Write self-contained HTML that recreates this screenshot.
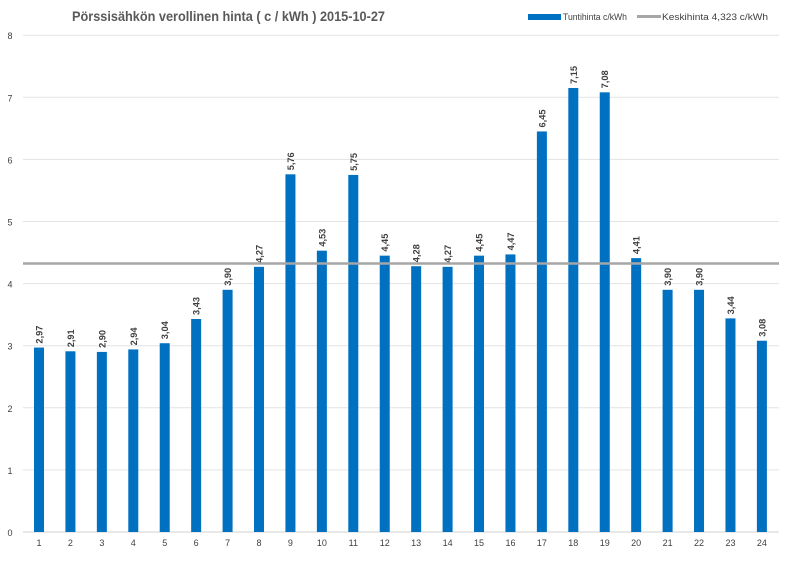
<!DOCTYPE html>
<html><head><meta charset="utf-8"><style>
html,body{margin:0;padding:0;background:#fff;}
</style></head><body>
<svg width="800" height="566" xmlns="http://www.w3.org/2000/svg" font-family="Liberation Sans, sans-serif">
<rect width="800" height="566" fill="#fff"/>
<text x="72" y="21" font-size="14" font-weight="bold" fill="#595959" textLength="313" lengthAdjust="spacingAndGlyphs">Pörssisähkön verollinen hinta ( c / kWh ) 2015-10-27</text>
<rect x="528" y="14" width="33" height="6" fill="#0070c0"/>
<text x="563" y="20" font-size="9" fill="#404040" textLength="64" lengthAdjust="spacingAndGlyphs">Tuntihinta c/kWh</text>
<rect x="637" y="15" width="24" height="3" fill="#a6a6a6"/>
<text x="662" y="20" font-size="9" fill="#404040" textLength="106" lengthAdjust="spacingAndGlyphs">Keskihinta 4,323 c/kWh</text>
<g id="grid"></g>
<g id="bars"></g>
</svg>
<script>
const v=[2.97,2.91,2.90,2.94,3.04,3.43,3.90,4.27,5.76,4.53,5.75,4.45,4.28,4.27,4.45,4.47,6.45,7.15,7.08,4.41,3.90,3.90,3.44,3.08];
const ns="http://www.w3.org/2000/svg";
const Y=d=>532-d*62.1;
const g=document.getElementById('grid'),b=document.getElementById('bars');
function el(p,t,a,txt){const e=document.createElementNS(ns,t);for(const k in a)e.setAttribute(k,a[k]);if(txt!==undefined)e.textContent=txt;p.appendChild(e);return e;}
for(let i=0;i<=8;i++){const y=Y(i);
el(g,'line',{x1:23,x2:779,y1:y,y2:y,stroke:i==0?'#d0d0d0':'#e3e3e3','stroke-width':1});
el(g,'text',{x:10,y:y+4,'font-size':9,fill:'#404040','text-anchor':'middle'},String(i));}
v.forEach((d,i)=>{const cx=39+i*31.43;
el(b,'rect',{x:cx-5,y:Y(d),width:10,height:532-Y(d),fill:'#0070c0'});
el(b,'text',{x:cx,y:546,'font-size':9,fill:'#404040','text-anchor':'middle'},String(i+1));
el(b,'text',{x:0,y:0,'font-size':9,'font-weight':'bold',fill:'#404040',textLength:18,lengthAdjust:'spacingAndGlyphs',transform:`translate(${cx+3.5},${Y(d)-4}) rotate(-90)`},d.toFixed(2).replace('.',','));
});
el(b,'line',{x1:23,x2:779,y1:Y(4.323),y2:Y(4.323),stroke:'#a6a6a6','stroke-width':2.5});
</script>
</body></html>
